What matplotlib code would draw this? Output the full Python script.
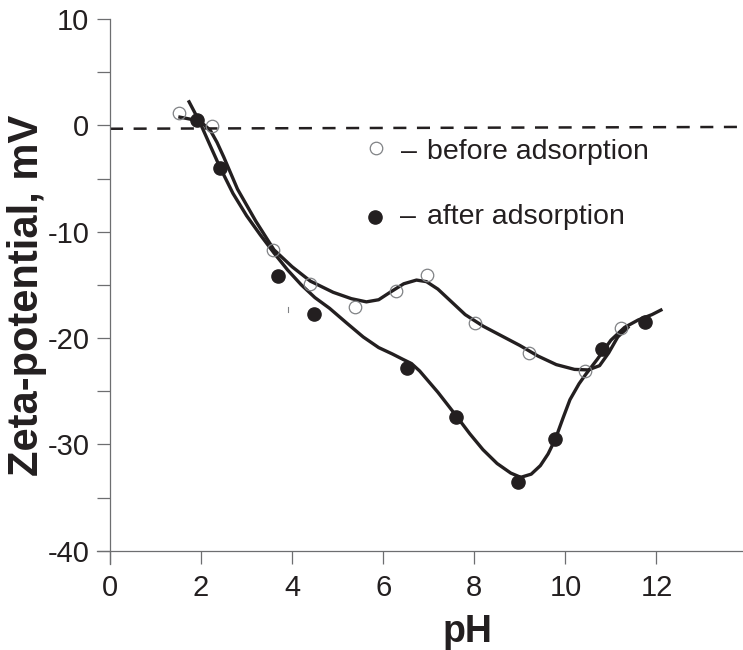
import matplotlib
matplotlib.use("Agg")
import matplotlib.pyplot as plt

# pontos medidos
before_ph = [1.52, 2.24, 3.58, 4.39, 5.39, 6.29, 6.96, 8.02, 9.20, 10.42, 11.22]
before_zp = [1.16, -0.10, -11.75, -14.9, -17.1, -15.6, -14.1, -18.6, -21.45, -23.1, -19.1]

after_ph = [1.92, 2.41, 3.69, 4.47, 6.52, 7.60, 8.97, 9.78, 10.81, 11.75]
after_zp = [0.47, -3.98, -14.2, -17.7, -22.85, -27.4, -33.55, -29.5, -21.0, -18.5]

# curvas ajustadas a mao
before_curve_ph = [1.50, 1.80, 2.00, 2.20, 2.35, 2.50, 2.80, 3.20, 3.60, 4.00, 4.40,
                   4.90, 5.30, 5.63, 5.90, 6.15, 6.45, 6.73, 6.95, 7.20, 7.50, 7.80,
                   8.20, 8.60, 9.00, 9.40, 9.80, 10.20, 10.50, 10.75, 10.95, 11.15,
                   11.40]
before_curve_zp = [0.80, 0.55, 0.30, -0.45, -1.60, -3.00, -6.00, -9.00, -11.70, -13.30,
                   -14.65, -15.70, -16.30, -16.60, -16.40, -15.70, -14.90, -14.55,
                   -14.70, -15.40, -16.60, -17.80, -18.90, -19.80, -20.70, -21.70,
                   -22.50, -22.95, -23.00, -22.60, -21.40, -19.90, -18.90]

after_curve_ph = [1.72, 1.97, 2.20, 2.41, 2.70, 3.00, 3.30, 3.60, 3.90, 4.20, 4.50,
                  4.82, 5.20, 5.56, 5.90, 6.20, 6.43, 6.62, 6.80, 7.00, 7.20, 7.60,
                  7.90, 8.19, 8.50, 8.80, 9.02, 9.25, 9.45, 9.62, 9.78, 9.95, 10.10,
                  10.30, 10.45, 10.70, 11.00, 11.30, 11.60, 11.90, 12.13]
after_curve_zp = [2.35, 0.31, -1.90, -3.90, -6.40, -8.50, -10.30, -12.00, -13.60,
                  -15.00, -16.20, -17.20, -18.60, -19.90, -20.90, -21.50, -22.00,
                  -22.40, -23.10, -24.10, -25.10, -27.30, -29.00, -30.50, -31.80,
                  -32.70, -33.10, -32.80, -32.00, -30.90, -29.50, -27.50, -25.80,
                  -24.30, -23.40, -22.00, -20.20, -19.00, -18.30, -17.80, -17.30]

zero_ph = [0.0, 13.9]
zero_zp = [-0.32, -0.15]

x_ticks = [0, 2, 4, 6, 8, 10, 12]
y_ticks = [10, 0, -10, -20, -30, -40]
y_minor = [5, -5, -15, -25, -35]

ink = "#231f20"
axis_grey = "#6d6e70"

plt.rcParams["font.family"] = ["Liberation Sans", "DejaVu Sans"]
plt.rcParams["axes.unicode_minus"] = False
plt.rcParams["lines.scale_dashes"] = False

fig = plt.figure(figsize=(7.43, 6.5), dpi=100)
ax = fig.add_axes([110 / 743, 1 - 550.7 / 650, 633 / 743, (550.7 - 19) / 650])

ax.plot(zero_ph, zero_zp, color=ink, lw=1.8, dashes=(9.4, 7.6), dash_capstyle="butt")

ax.plot(before_curve_ph, before_curve_zp, color=ink, lw=2.4, solid_joinstyle="round",
        solid_capstyle="butt")
ax.plot(after_curve_ph, after_curve_zp, color=ink, lw=2.4, solid_joinstyle="round",
        solid_capstyle="butt")

ax.plot(before_ph, before_zp, "o", ms=9, mfc="none", mec="#808285", mew=0.9)
ax.plot(after_ph, after_zp, "o", ms=9.5, mfc=ink, mec=ink)

# risquinho solto perto de pH 4
ax.plot([3.91, 3.91], [-17.05, -17.6], color="#808285", lw=0.8)

# legenda escrita dentro do grafico
ax.plot([5.85], [-2.13], "o", ms=9, mfc="none", mec="#808285", mew=0.9)
ax.plot([5.81], [-8.62], "o", ms=9.5, mfc=ink, mec=ink)
ax.text(6.40, -3.13, "\u2013", fontsize=20.5, color=ink, va="baseline")
ax.text(6.36, -9.24, "\u2013", fontsize=20.5, color=ink, va="baseline")
ax.text(6.97, -3.13, "before adsorption", fontsize=20.5, color=ink, va="baseline")
ax.text(6.97, -9.24, "after adsorption", fontsize=20.5, color=ink, va="baseline")

ax.set_xlim(0, 13.9)
ax.set_ylim(-40, 10)
ax.set_xticks(x_ticks)
ax.set_yticks(y_ticks)
ax.set_yticks(y_minor, minor=True)
ax.tick_params(axis="both", which="both", direction="out", length=9.4, width=0.9,
               color=axis_grey, labelsize=21, labelcolor=ink)
ax.tick_params(axis="x", pad=7.5)
ax.tick_params(axis="y", pad=5.5)

for s in ["top", "right"]:
    ax.spines[s].set_visible(False)
for s in ["left", "bottom"]:
    ax.spines[s].set_color(axis_grey)
    ax.spines[s].set_linewidth(0.9)
ax.spines["left"].set_bounds(-40 - 13 / 10.64, 10)
ax.spines["bottom"].set_bounds(-13 / 45.6, 13.9)

fig.text(27.5 / 743, 1 - 295.5 / 650, "Zeta-potential, mV", rotation=90, fontsize=30,
         fontweight="bold", color=ink, ha="center", va="center")
fig.text(467 / 743, 1 - 642 / 650, "pH", fontsize=27, fontweight="bold", color=ink,
         ha="center", va="baseline")

fig.savefig("out.png", dpi=100)
